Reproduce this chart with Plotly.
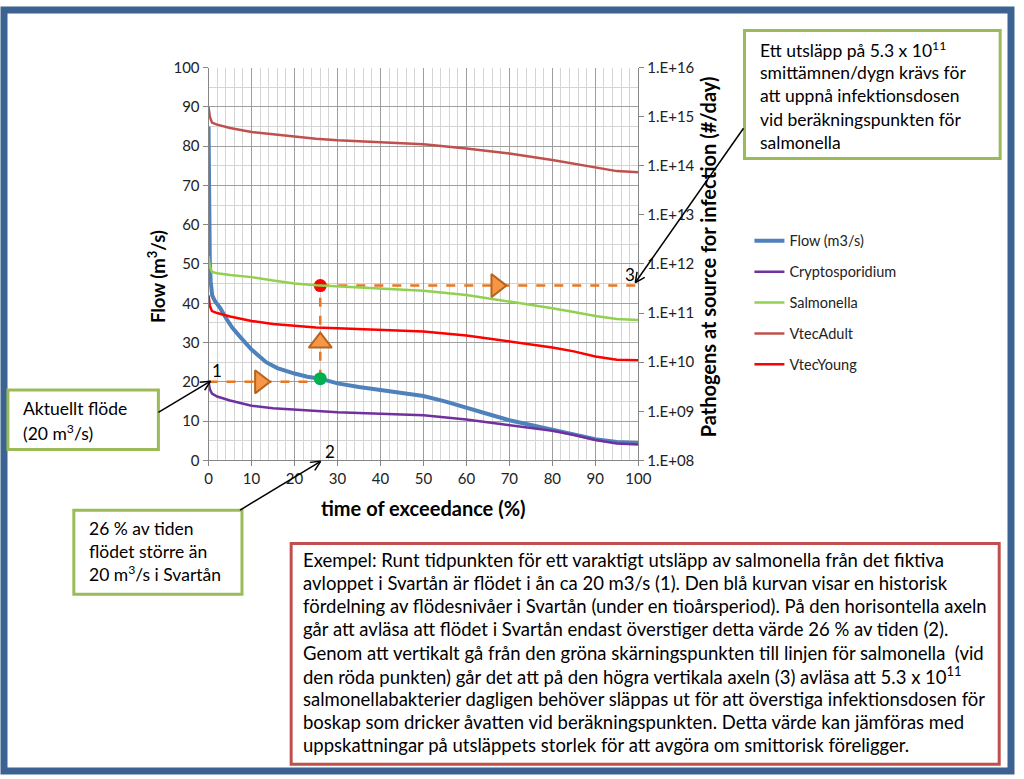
import plotly.graph_objects as go
import math

W, H = 1024, 779

# ---------------- data ----------------
flow_x = [0, 0.15, 0.3, 0.5, 0.85, 1.5, 2.7, 4, 5.5, 7.3, 10, 13.4, 16, 20, 23, 26, 30, 35, 40, 45, 50, 55, 60, 65, 70, 75, 80, 85, 90, 95, 100]
flow_y = [85, 60, 50, 45.5, 42, 40.5, 38.8, 36.3, 33.8, 31.5, 28.2, 25, 23.5, 22.1, 21.3, 20.8, 19.6, 18.7, 18, 17.3, 16.4, 15, 13.5, 11.8, 10.2, 9, 7.8, 6.6, 5.4, 4.7, 4.4]

path_x = [0, 0.3, 0.8, 2, 5, 10, 15, 20, 25, 30, 40, 50, 60, 70, 80, 85, 90, 95, 100]
crypto = [4.0e9, 2.8e9, 2.3e9, 2.0e9, 1.66e9, 1.29e9, 1.15e9, 1.07e9, 1.0e9, 9.5e8, 8.9e8, 8.3e8, 6.8e8, 5.2e8, 4.0e8, 3.3e8, 2.6e8, 2.2e8, 2.1e8]
salmonella = [1.45e12, 8.9e11, 6.9e11, 6.5e11, 6.0e11, 5.4e11, 4.6e11, 4.0e11, 3.7e11, 3.5e11, 3.2e11, 2.86e11, 2.34e11, 1.74e11, 1.26e11, 1.05e11, 8.7e10, 7.6e10, 7.2e10]
vtec_adult = [1.58e15, 1.0e15, 7.6e14, 6.9e14, 5.9e14, 4.9e14, 4.4e14, 3.9e14, 3.55e14, 3.3e14, 3.0e14, 2.75e14, 2.24e14, 1.78e14, 1.32e14, 1.1e14, 9.1e13, 7.8e13, 7.4e13]
vtec_young = [2.3e11, 1.4e11, 1.1e11, 1.0e11, 8.5e10, 6.9e10, 6.0e10, 5.5e10, 5.1e10, 4.9e10, 4.5e10, 4.2e10, 3.5e10, 2.6e10, 2.0e10, 1.66e10, 1.3e10, 1.12e10, 1.1e10]

# guide construction (read-off example)
current_flow = 20
exceed_pct = 26
flow_at_pct = 20.8
salm_level_left = 44.5
guide_arrow_x = [12, 26, 67]
guide_arrow_y = [20, 30, 44.5]
guide_arrow_sym = ["triangle-right", "triangle-up", "triangle-right"]

right_tickvals = [1e8, 1e9, 1e10, 1e11, 1e12, 1e13, 1e14, 1e15, 1e16]
right_ticktext = ["1.E+08", "1.E+09", "1.E+10", "1.E+11", "1.E+12", "1.E+13", "1.E+14", "1.E+15", "1.E+16"]

FONT = "Lato, Open Sans, sans-serif"
BOXFS = 17.5

def px(x):
    return x / W

def py(y):
    return 1 - y / H

fig = go.Figure()

ORANGE = "#F79646"
DASH = dict(color="#E87722", width=2.5, dash="dash")
fig.add_trace(go.Scatter(x=[0, exceed_pct], y=[current_flow, current_flow], mode="lines",
                         line=DASH, showlegend=False, hoverinfo="skip"))
fig.add_trace(go.Scatter(x=[exceed_pct, exceed_pct], y=[flow_at_pct, salm_level_left], mode="lines",
                         line=DASH, showlegend=False, hoverinfo="skip"))
fig.add_trace(go.Scatter(x=[exceed_pct, 100], y=[salm_level_left, salm_level_left], mode="lines",
                         line=DASH, showlegend=False, hoverinfo="skip"))

fig.add_trace(go.Scatter(x=flow_x, y=flow_y, name="Flow (m3/s)", mode="lines",
                         line=dict(color="#4F81BD", width=4), legendgroup="a"))
fig.add_trace(go.Scatter(x=path_x, y=crypto, name="Cryptosporidium", mode="lines", yaxis="y2",
                         line=dict(color="#7030A0", width=2.5), legendgroup="b"))
fig.add_trace(go.Scatter(x=path_x, y=salmonella, name="Salmonella", mode="lines", yaxis="y2",
                         line=dict(color="#92D050", width=2.5), legendgroup="c"))
fig.add_trace(go.Scatter(x=path_x, y=vtec_adult, name="VtecAdult", mode="lines", yaxis="y2",
                         line=dict(color="#C0504D", width=2.5), legendgroup="d"))
fig.add_trace(go.Scatter(x=path_x, y=vtec_young, name="VtecYoung", mode="lines", yaxis="y2",
                         line=dict(color="#FF0000", width=2.5), legendgroup="e"))

fig.add_trace(go.Scatter(x=guide_arrow_x, y=guide_arrow_y, mode="markers", showlegend=False, hoverinfo="skip",
                         marker=dict(symbol=guide_arrow_sym, size=20, color=ORANGE,
                                     line=dict(color="#B5651D", width=2))))
fig.add_trace(go.Scatter(x=[exceed_pct], y=[flow_at_pct], mode="markers", showlegend=False, hoverinfo="skip",
                         marker=dict(color="#00B050", size=13)))
fig.add_trace(go.Scatter(x=[exceed_pct], y=[salm_level_left], mode="markers", showlegend=False, hoverinfo="skip",
                         marker=dict(color="#FF0000", size=13)))

shapes = []
annotations = []

# outer frame
shapes.append(dict(type="rect", xref="paper", yref="paper", x0=0, x1=1, y0=0, y1=1,
                   line=dict(color="#3B6290", width=7), fillcolor="rgba(0,0,0,0)", layer="above"))

def box(x0, y0, x1, y1, color):
    shapes.append(dict(type="rect", xref="paper", yref="paper", x0=px(x0), x1=px(x1), y0=py(y1), y1=py(y0),
                       line=dict(color=color, width=3), fillcolor="white", layer="above"))

def lines_text(x, y0, step, lines, size):
    for i, t in enumerate(lines):
        annotations.append(dict(xref="paper", yref="paper", x=px(x), y=py(y0 + i * step), text=t,
                                showarrow=False, xanchor="left", yanchor="middle",
                                font=dict(family=FONT, size=size, color="black")))

def arrow(x0, y0, x1, y1):
    shapes.append(dict(type="line", xref="paper", yref="paper", x0=px(x0), y0=py(y0), x1=px(x1), y1=py(y1),
                       line=dict(color="black", width=1.5), layer="above"))
    ang = math.atan2(y1 - y0, x1 - x0)
    L = 11
    for d in (0.45, -0.45):
        hx = x1 - L * math.cos(ang + d)
        hy = y1 - L * math.sin(ang + d)
        shapes.append(dict(type="line", xref="paper", yref="paper", x0=px(x1), y0=py(y1), x1=px(hx), y1=py(hy),
                           line=dict(color="black", width=1.5), layer="above"))

GREEN = "#9BBB59"
box(4, 389, 157, 450, GREEN)
lines_text(17, 408, 24, ["Aktuellt flöde", "(20 m<sup>3</sup>/s)"], BOXFS)

box(71, 512, 242, 598, GREEN)
lines_text(84, 531, 23, ["26 % av tiden", "flödet större än", "20 m<sup>3</sup>/s i Svartån"], BOXFS)

box(753, 21, 1013, 152, GREEN)
lines_text(767, 40, 24, ["Ett utsläpp på 5.3 x 10<sup>11</sup>", "smittämnen/dygn krävs för",
                         "att uppnå infektionsdosen", "vid beräkningspunkten för", "salmonella"], BOXFS)

box(292, 546, 1012, 772, "#C0504D")
lines_text(302, 563, 23.7, [
    "Exempel: Runt tidpunkten för ett varaktigt utsläpp av salmonella från det fiktiva",
    "avloppet i Svartån är flödet i ån ca 20 m3/s (1). Den blå kurvan visar en historisk",
    "fördelning av flödesnivåer i Svartån (under en tioårsperiod). På den horisontella axeln",
    "går att avläsa att flödet i Svartån endast överstiger detta värde 26 % av tiden (2).",
    "Genom att vertikalt gå från den gröna skärningspunkten till linjen för salmonella  (vid",
    "den röda punkten) går det att på den högra vertikala axeln (3) avläsa att 5.3 x 10<sup>11</sup>",
    "salmonellabakterier dagligen behöver släppas ut för att överstiga infektionsdosen för",
    "boskap som dricker åvatten vid beräkningspunkten. Detta värde kan jämföras med",
    "uppskattningar på utsläppets storlek för att avgöra om smittorisk föreligger.",
], 18.5)

arrow(157, 412, 210, 380)
arrow(240, 512, 322, 462)
arrow(752, 121, 642, 279)

for t, x, y in [("1", 217, 369), ("2", 331, 452), ("3", 637, 271)]:
    annotations.append(dict(xref="paper", yref="paper", x=px(x), y=py(y), text=t, showarrow=False,
                            xanchor="center", yanchor="middle", font=dict(family=FONT, size=17, color="black")))

# axis titles
annotations.append(dict(xref="paper", yref="paper", x=px(155), y=py(273), text="<b>Flow (m<sup>3</sup>/s)</b>",
                        textangle=-90, showarrow=False, xanchor="center", yanchor="middle",
                        font=dict(family=FONT, size=18.5, color="black")))
annotations.append(dict(xref="paper", yref="paper", x=px(716), y=py(253),
                        text="<b>Pathogens at source for infection (#/day)</b>",
                        textangle=-90, showarrow=False, xanchor="center", yanchor="middle",
                        font=dict(family=FONT, size=20, color="black")))
annotations.append(dict(xref="paper", yref="paper", x=px(427), y=py(510), text="<b>time of exceedance (%)</b>",
                        showarrow=False, xanchor="center", yanchor="middle",
                        font=dict(family=FONT, size=20, color="black")))

AX = "#868686"
TF = dict(size=15, family=FONT, color="#222222")
fig.update_layout(
    width=W, height=H,
    margin=dict(l=0, r=0, t=0, b=0),
    paper_bgcolor="white", plot_bgcolor="white",
    font=dict(family=FONT, size=14, color="#222222"),
    xaxis=dict(domain=[px(208), px(645)], range=[0, 100], dtick=10, tick0=0,
               showgrid=True, gridcolor="#9E9E9E", gridwidth=1,
               minor=dict(dtick=2, showgrid=True, gridcolor="#D4D4D4", gridwidth=1),
               showline=True, linecolor=AX, ticks="outside", ticklen=5, tickcolor=AX,
               zeroline=False, tickfont=TF),
    yaxis=dict(domain=[py(461), py(59)], range=[0, 100], dtick=10,
               showgrid=True, gridcolor="#9E9E9E", gridwidth=1,
               minor=dict(dtick=5, showgrid=True, gridcolor="#D4D4D4", gridwidth=1),
               showline=True, linecolor=AX, ticks="outside", ticklen=5, tickcolor=AX,
               zeroline=False, tickfont=TF),
    yaxis2=dict(type="log", range=[8, 16], overlaying="y", side="right", anchor="x",
                tickvals=right_tickvals, ticktext=right_ticktext, showgrid=False,
                showline=True, linecolor=AX, ticks="outside", ticklen=5, tickcolor=AX,
                zeroline=False, tickfont=TF),
    legend=dict(x=px(758), y=py(220), xanchor="left", yanchor="top", bgcolor="rgba(0,0,0,0)",
                font=dict(family=FONT, size=14.5, color="#222222"), tracegroupgap=9, itemwidth=30),
    shapes=shapes,
    annotations=annotations,
)

fig.write_html("out.html", config={"displayModeBar": False},
               post_script="document.body.style.margin='0';document.body.style.overflow='hidden';"
                           "document.documentElement.style.overflow='hidden';")
